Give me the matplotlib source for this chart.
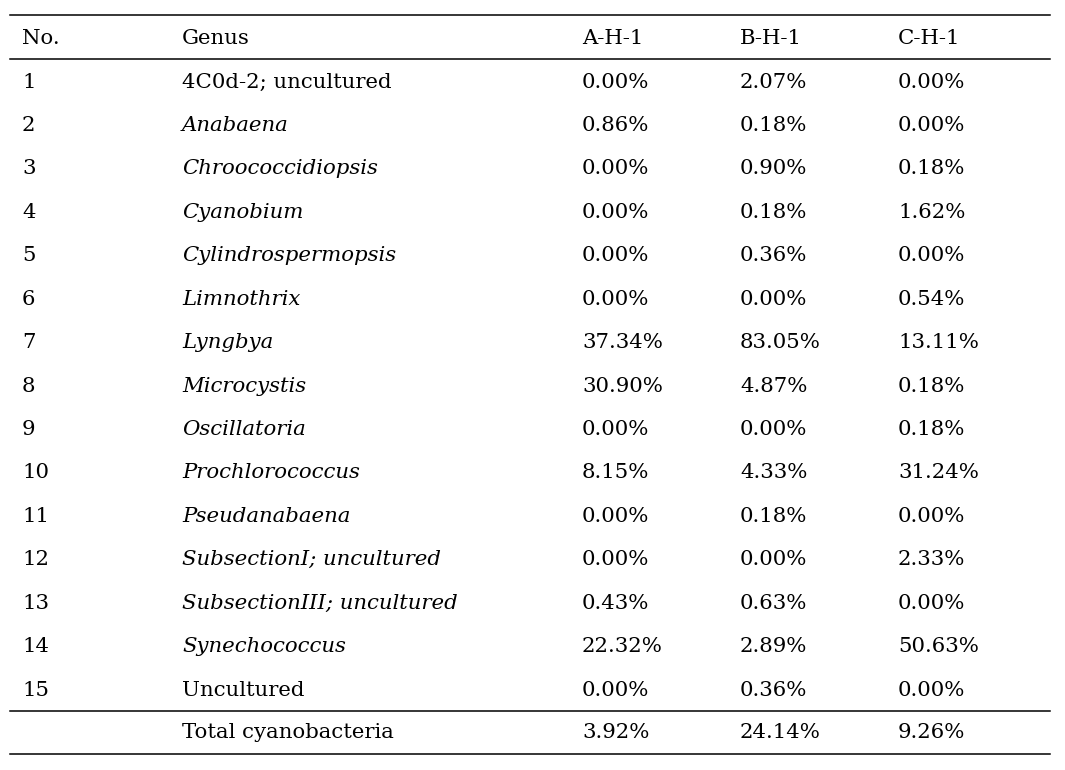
import matplotlib
matplotlib.use("Agg")
import matplotlib.pyplot as plt

# table data
headers = ["No.", "Genus", "A-H-1", "B-H-1", "C-H-1"]
numbers = [str(i) for i in range(1, 16)]
genera = ["4C0d-2; uncultured", "Anabaena", "Chroococcidiopsis", "Cyanobium",
          "Cylindrospermopsis", "Limnothrix", "Lyngbya", "Microcystis",
          "Oscillatoria", "Prochlorococcus", "Pseudanabaena",
          "SubsectionI; uncultured", "SubsectionIII; uncultured",
          "Synechococcus", "Uncultured"]
italic = [False] + [True] * 13 + [False]
a_h1 = ["0.00%", "0.86%", "0.00%", "0.00%", "0.00%", "0.00%", "37.34%", "30.90%",
        "0.00%", "8.15%", "0.00%", "0.00%", "0.43%", "22.32%", "0.00%"]
b_h1 = ["2.07%", "0.18%", "0.90%", "0.18%", "0.36%", "0.00%", "83.05%", "4.87%",
        "0.00%", "4.33%", "0.18%", "0.00%", "0.63%", "2.89%", "0.36%"]
c_h1 = ["0.00%", "0.00%", "0.18%", "1.62%", "0.00%", "0.54%", "13.11%", "0.18%",
        "0.18%", "31.24%", "0.00%", "2.33%", "0.00%", "50.63%", "0.00%"]
total_label = "Total cyanobacteria"
totals = ["3.92%", "24.14%", "9.26%"]

plt.rcParams['font.family'] = ['DejaVu Serif']

fig = plt.figure(figsize=(10.65, 7.7), dpi=100)
ax = fig.add_axes([0, 0, 1, 1])
ax.set_xlim(0, 1065)
ax.set_ylim(770, 0)
ax.axis('off')

col_x = [22, 182, 582, 740, 898]
fs = 15.3
header_y = 38
row0_y = 82
step = 43.43

for x, h in zip(col_x, headers):
    ax.text(x, header_y, h, fontsize=fs, va='center', ha='left')

for i in range(len(numbers)):
    y = row0_y + i * step
    ax.text(col_x[0], y, numbers[i], fontsize=fs, va='center')
    ax.text(col_x[1], y, genera[i], fontsize=fs, va='center',
            style='italic' if italic[i] else 'normal')
    for x, v in zip(col_x[2:], [a_h1[i], b_h1[i], c_h1[i]]):
        ax.text(x, y, v, fontsize=fs, va='center')

total_y = row0_y + len(numbers) * step - 1
ax.text(col_x[1], total_y, total_label, fontsize=fs, va='center')
for x, v in zip(col_x[2:], totals):
    ax.text(x, total_y, v, fontsize=fs, va='center')

for y in [15, 59, 711, 754]:
    ax.plot([10, 1050], [y, y], color='black', lw=1.1)

fig.savefig("out.png", dpi=100)
